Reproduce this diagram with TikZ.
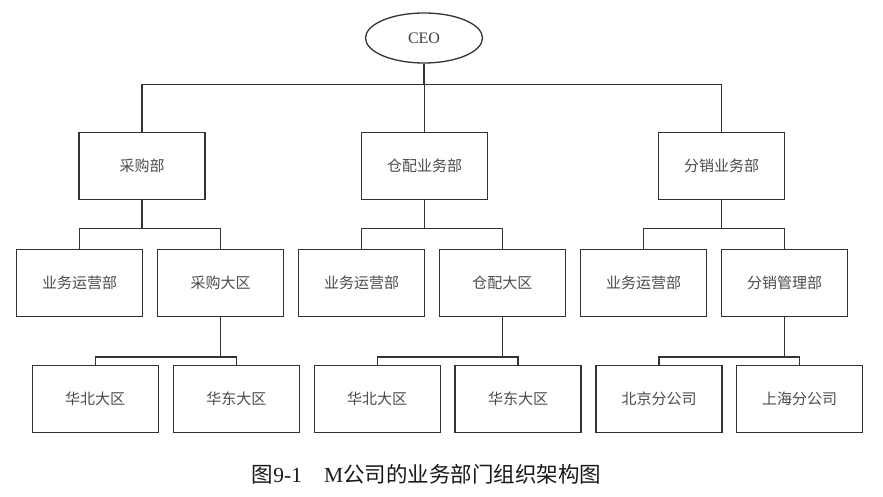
\documentclass[tikz,border=0pt]{standalone}
\usepackage{fontspec}
\setmainfont{Liberation Serif}
\newfontfamily\cjk{Noto Sans CJK SC}
\usetikzlibrary{shapes.geometric}
\begin{document}
\begin{tikzpicture}[x=1pt,y=-1pt,
  box/.style={draw=black!80, line width=1.3pt, minimum width=126pt, minimum height=67pt, inner sep=0pt, font=\cjk\fontsize{15}{15}\selectfont, text=black!70},
  conn/.style={draw=black!80, line width=1.3pt}]
\useasboundingbox (0,0) rectangle (883,497);
\fill[white] (0,0) rectangle (883,497);
\node[ellipse, draw=black!80, line width=1.3pt, minimum width=117pt, minimum height=50pt, inner sep=0pt, font=\fontsize{16}{16}\selectfont, text=black!75] (ceo) at (424,38) {CEO};
\node[box] (pa) at (142,166) {采购部};
\node[box] (pb) at (424.5,166) {仓配业务部};
\node[box] (pc) at (721.5,166) {分销业务部};
\node[box] (a1) at (79.7,282.7) {业务运营部};
\node[box] (a2) at (220.7,282.7) {采购大区};
\node[box] (b1) at (361.7,282.7) {业务运营部};
\node[box] (b2) at (502.3,282.7) {仓配大区};
\node[box] (c1) at (643.5,282.7) {业务运营部};
\node[box] (c2) at (784.5,282.7) {分销管理部};
\node[box] (a21) at (95.2,398.7) {华北大区};
\node[box] (a22) at (236.3,398.7) {华东大区};
\node[box] (b21) at (377.2,398.7) {华北大区};
\node[box] (b22) at (518,398.7) {华东大区};
\node[box] (c21) at (659,398.7) {北京分公司};
\node[box] (c22) at (799.7,398.7) {上海分公司};
\coordinate (bus0) at (0,84.3);
\coordinate (bus1) at (0,228.3);
\coordinate (bus2) at (0,357);
\draw[conn] (pa.north) -- (pa.north |- bus0) -- (pc.north |- bus0) -- (pc.north);
\draw[conn] (ceo.south) -- (ceo.south |- bus0);
\draw[conn] (pb.north) -- (pb.north |- bus0);
\draw[conn] (a1.north) -- (a1.north |- bus1) -- (a2.north |- bus1) -- (a2.north);
\draw[conn] (pa.south) -- (pa.south |- bus1);
\draw[conn] (b1.north) -- (b1.north |- bus1) -- (b2.north |- bus1) -- (b2.north);
\draw[conn] (pb.south) -- (pb.south |- bus1);
\draw[conn] (c1.north) -- (c1.north |- bus1) -- (c2.north |- bus1) -- (c2.north);
\draw[conn] (pc.south) -- (pc.south |- bus1);
\draw[conn] (a21.north) -- (a21.north |- bus2) -- (a22.north |- bus2) -- (a22.north);
\draw[conn] (a2.south) -- (a2.south |- bus2);
\draw[conn] (b21.north) -- (b21.north |- bus2) -- (b22.north |- bus2) -- (b22.north);
\draw[conn] (b2.south) -- (b2.south |- bus2);
\draw[conn] (c21.north) -- (c21.north |- bus2) -- (c22.north |- bus2) -- (c22.north);
\draw[conn] (c2.south) -- (c2.south |- bus2);
\node[font=\fontsize{21.5}{21.5}\selectfont, text=black!90, inner sep=0pt] (cap) at (426.5,474) {{\cjk 图}9-1\hspace{22pt}M{\cjk 公司的业务部门组织架构图}};
\end{tikzpicture}
\end{document}
